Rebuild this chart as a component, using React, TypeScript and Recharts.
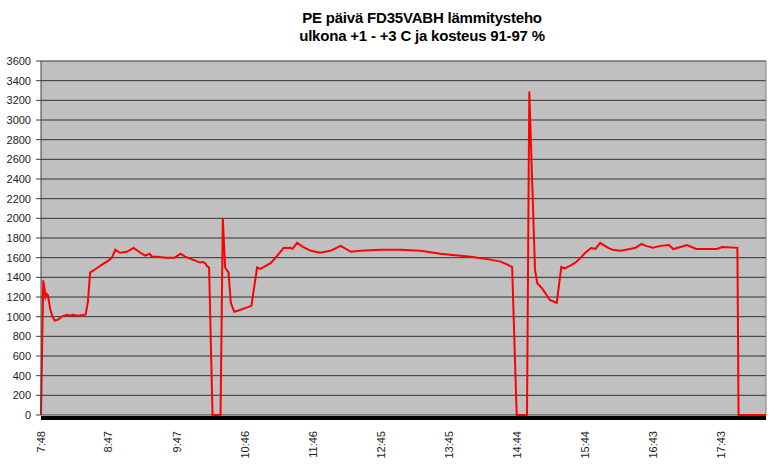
import React from 'react';
import { LineChart, Line, XAxis, YAxis, CartesianGrid, ReferenceLine } from 'recharts';

const titleLines = ['PE päivä FD35VABH lämmitysteho', 'ulkona +1 - +3 C ja kosteus 91-97 %'];

const timeLabels = ['7:48', '8:47', '9:47', '10:46', '11:46', '12:45', '13:45', '14:44', '15:44', '16:43', '17:43'];

// sample times, minutes since midnight
const sampleMinutes = [
  468, 470, 472, 473, 474, 476, 478, 480, 483, 486, 491, 493, 496, 500, 507, 509, 511, 514, 520, 527,
  530, 533, 537, 543, 549, 555, 559, 563, 565, 570, 577, 585, 590, 594, 603, 607, 610, 612, 613, 615,
  618, 625, 627, 629, 632, 634, 637, 640, 647, 652, 657, 660, 669, 673, 680, 686, 688, 692, 697, 704,
  712, 721, 730, 739, 747, 765, 782, 800, 817, 844, 861, 870, 874, 880, 884, 893, 895, 900, 902, 906,
  909, 913, 919, 923, 926, 931, 936, 940, 944, 949, 953, 957, 964, 968, 975, 984, 988, 993, 997, 1003,
  1010, 1017, 1021, 1033, 1041, 1059, 1064, 1077, 1078, 1102,
];

// heating power (W)
const powerValues = [
  0, 1370, 1200, 1230, 1220, 1080, 1000, 960, 970, 1000, 1020, 1010, 1020, 1010, 1020, 1150, 1450, 1470, 1520, 1570,
  1600, 1680, 1650, 1660, 1700, 1650, 1620, 1640, 1610, 1610, 1600, 1600, 1640, 1610, 1570, 1550, 1556, 1540, 1515, 1500,
  0, 0, 2000, 1500, 1450, 1140, 1050, 1060, 1090, 1110, 1500, 1485, 1546, 1597, 1698, 1700, 1690, 1750, 1710, 1670,
  1650, 1670, 1720, 1660, 1670, 1680, 1680, 1670, 1640, 1610, 1580, 1560, 1540, 1505, 0, 0, 3290, 1475, 1340, 1290,
  1240, 1170, 1140, 1505, 1490, 1520, 1556, 1600, 1650, 1698, 1690, 1750, 1700, 1680, 1670, 1690, 1700, 1740, 1720, 1700,
  1720, 1729, 1688, 1729, 1688, 1688, 1709, 1700, 0, 0,
];

const yTicks = [0, 200, 400, 600, 800, 1000, 1200, 1400, 1600, 1800, 2000, 2200, 2400, 2600, 2800, 3000, 3200, 3400, 3600];

const toMinutes = (s: string) => {
  const [h, m] = s.split(':').map(Number);
  return h * 60 + m;
};
const xTicks = timeLabels.map(toMinutes);
const fmt = (v: number) => `${Math.floor(v / 60)}:${String(v % 60).padStart(2, '0')}`;

const data = sampleMinutes.map((t, i) => ({ t, w: powerValues[i] }));
const xMin = sampleMinutes[0];
const xMax = sampleMinutes[sampleMinutes.length - 1];

const FONT = '"Liberation Sans", Arial, sans-serif';

const XTick = (props: any) => {
  const { x, y, payload } = props;
  return (
    <text
      x={x + 4}
      y={y + 8}
      transform={`rotate(-90, ${x + 4}, ${y + 8})`}
      textAnchor="end"
      fontSize={11}
      fontFamily={FONT}
      fill="#222"
    >
      {fmt(payload.value)}
    </text>
  );
};

export default function App() {
  return (
    <div style={{ position: 'absolute', left: 0, top: 0, width: 775, height: 474, background: '#fff' }}>
      {titleLines.map((line, i) => (
        <div
          key={i}
          style={{
            position: 'absolute',
            left: 0,
            width: 844,
            top: 9 + i * 18,
            textAlign: 'center',
            fontFamily: FONT,
            fontWeight: 'bold',
            fontSize: 15,
            lineHeight: '17px',
            color: '#000',
            letterSpacing: -0.2,
          }}
        >
          {line}
        </div>
      ))}
      <LineChart
        width={775}
        height={474}
        data={data}
        margin={{ top: 61, right: 9, bottom: 0, left: 0 }}
      >
        <CartesianGrid
          horizontal
          vertical={false}
          fill="#C0C0C0"
          fillOpacity={1}
          stroke="#333"
          strokeWidth={1}
        />
        <ReferenceLine x={xMax} stroke="#808080" strokeWidth={1} ifOverflow="visible" />
        <XAxis
          dataKey="t"
          type="number"
          domain={[xMin, xMax]}
          ticks={xTicks}
          height={59}
          tickLine={false}
          axisLine={{ stroke: '#000', strokeWidth: 4, transform: 'translate(0,3)' }}
          tick={<XTick />}
          interval={0}
        />
        <YAxis
          type="number"
          domain={[0, 3600]}
          ticks={yTicks}
          width={41}
          tickSize={5}
          tickMargin={5}
          interval={0}
          tickLine={{ stroke: '#404040' }}
          axisLine={{ stroke: '#404040' }}
          tick={{ fontSize: 11, fontFamily: FONT, fill: '#222' }}
        />
        <Line
          type="linear"
          dataKey="w"
          stroke="#FF0000"
          strokeWidth={2}
          dot={false}
          isAnimationActive={false}
        />
      </LineChart>
    </div>
  );
}
